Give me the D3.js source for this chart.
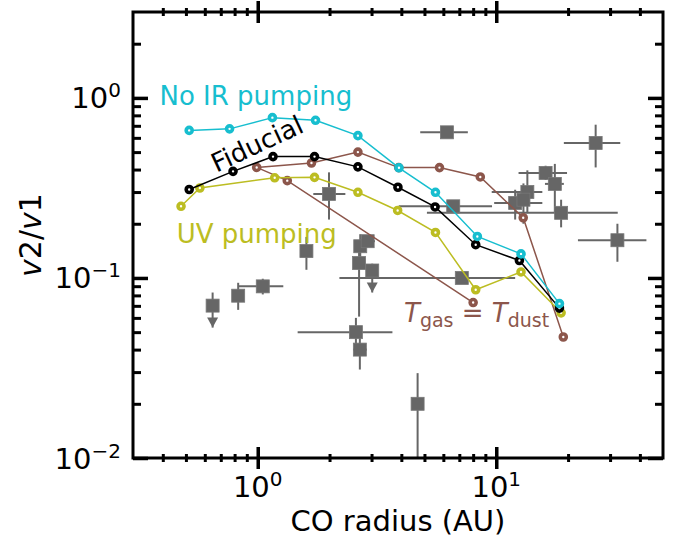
<!DOCTYPE html>
<html><head><meta charset="utf-8">
<script src="https://cdn.jsdelivr.net/npm/d3@7"></script>
<style>body{margin:0;background:#fff} svg{display:block}</style>
</head><body>
<script>
// ---------- data ----------
const noIRx=[0.516,0.762,1.152,1.747,2.63,3.91,5.56,8.33,12.7,18.4];
const noIRy=[0.66,0.673,0.777,0.751,0.617,0.409,0.299,0.170,0.136,0.072];
const fidX=[0.516,0.788,1.159,1.73,2.63,3.87,5.54,8.2,12.5,18.4];
const fidY=[0.31,0.391,0.472,0.472,0.414,0.319,0.248,0.153,0.125,0.068];
const uvX=[0.477,0.572,1.178,1.73,2.63,3.86,5.56,8.2,12.7,18.7];
const uvY=[0.25,0.316,0.36,0.362,0.299,0.237,0.179,0.086,0.108,0.064];
const tgX=[8.0,1.33,0.99,1.68,2.63,3.9,5.78,8.57,12.97,19.1];
const tgY=[0.073,0.347,0.411,0.435,0.50,0.41,0.41,0.364,0.216,0.047];

const obsX  =[6.21,26.1,16.1,17.6,13.5,12.0,13.0,18.7,6.6,32.2,1.99,1.60,2.69,2.89,2.66,3.02,1.05,0.828,0.647,7.17,2.58,2.68,4.68];
const obsY  =[0.644,0.562,0.383,0.333,0.300,0.261,0.272,0.23,0.25,0.162,0.293,0.141,0.15,0.16,0.121,0.110,0.0898,0.0797,0.0702,0.1,0.050,0.040,0.020];
const obsXlo=[4.8,19.2,12.4,16.0,9.57,9.8,null,5.12,3.9,22.0,1.71,null,null,2.7,null,null,0.828,null,null,2.2,1.47,2.51,null];
const obsXhi=[7.6,33.1,19.8,19.2,15.6,15.6,null,32.3,9.6,42.6,2.33,null,null,3.1,null,null,1.28,null,null,12.0,3.67,2.87,null];
const obsYlo=[null,0.411,0.35,0.229,0.229,0.211,0.20,0.191,null,0.123,0.211,0.111,0.13,null,0.061,0.083,0.081,0.0665,0.053,null,0.04,0.031,0.008];
const obsYhi=[null,0.71,0.42,0.43,0.396,0.309,0.335,0.272,null,0.2,0.386,0.169,0.175,null,0.15,0.12,0.099,0.094,0.083,null,0.06,0.05,0.0296];
const obsUL =[0,0,0,0,0,0,0,0,0,0,0,0,0,0,0,1,0,0,1,0,0,0,0];

const xMajor=[1,10], xMinor=[0.4,0.5,0.6,0.7,0.8,0.9,2,3,4,5,6,7,8,9,20,30,40];
const yMajor=[0.01,0.1,1], yMinor=[0.02,0.03,0.04,0.05,0.06,0.07,0.08,0.09,0.2,0.3,0.4,0.5,0.6,0.7,0.8,0.9,2];
const xTickLabels=[["10","0"],["10","1"]];
const yTickLabels=[["10","\u22122"],["10","\u22121"],["10","0"]];

// ---------- setup ----------
const W=681,H=543, L=133,R=663,T=12,B=458;
const x=d3.scaleLog().domain([0.3,50]).range([L,R]);
const y=d3.scaleLog().domain([0.01,3]).range([B,T]);
const svg=d3.select('body').append('svg').attr('width',W).attr('height',H)
  .style('font-family','DejaVu Sans');
svg.append('defs').append('clipPath').attr('id','clip').append('rect')
  .attr('x',L).attr('y',T).attr('width',R-L).attr('height',B-T);
const plot=svg.append('g').attr('clip-path','url(#clip)');
const gray='#666666';

// ---------- observations ----------
const obsG=plot.append('g');
obsX.forEach((vx,i)=>{
  const cx=x(vx), cy=y(obsY[i]);
  if(obsXlo[i]!=null) obsG.append('line').attr('x1',x(obsXlo[i])).attr('x2',x(obsXhi[i]))
     .attr('y1',cy).attr('y2',cy).attr('stroke',gray).attr('stroke-width',2);
  if(obsYlo[i]!=null) obsG.append('line').attr('x1',cx).attr('x2',cx)
     .attr('y1',y(obsYhi[i])).attr('y2',y(obsYlo[i])).attr('stroke',gray).attr('stroke-width',2);
  if(obsUL[i]){
    const ty=y(obsYlo[i]);
    obsG.append('path').attr('d',`M${cx-5.5},${ty-10}L${cx+5.5},${ty-10}L${cx},${ty}Z`).attr('fill',gray);
  }
});
obsX.forEach((vx,i)=>{
  obsG.append('rect').attr('x',x(vx)-6.5).attr('y',y(obsY[i])-6.5).attr('width',13).attr('height',13)
    .attr('fill',gray).attr('stroke','#777').attr('stroke-width',0.8);
});

// ---------- model series ----------
function series(xs,ys,col){
  const pts=xs.map((v,i)=>[x(v),y(ys[i])]);
  plot.append('path').attr('d',d3.line()(pts)).attr('fill','none').attr('stroke',col).attr('stroke-width',1.5);
  plot.append('g').selectAll('circle').data(pts).join('circle')
    .attr('cx',d=>d[0]).attr('cy',d=>d[1]).attr('r',3).attr('fill','#fff')
    .attr('stroke',col).attr('stroke-width',3.6);
}
series(tgX,tgY,'#8c564b');
series(uvX,uvY,'#bcbd22');
series(fidX,fidY,'#000000');
series(noIRx,noIRy,'#17becf');

// ---------- axes ----------
function addAxis(axisFn,scale,vals,tr){
  const g=svg.append('g').attr('transform',tr).call(axisFn(scale).tickValues(vals).tickFormat('').tickSizeOuter(0));
  g.select('.domain').remove();
  return g;
}
[[d3.axisBottom,`translate(0,${B})`],[d3.axisTop,`translate(0,${T})`]].forEach(([fn,tr])=>{
  addAxis(fn,x,xMajor,tr).selectAll('.tick line').attr('y1',-11).attr('y2',11).attr('stroke','#000').attr('stroke-width',3.5);
  addAxis(fn,x,xMinor,tr).selectAll('.tick line').attr('y1',-4).attr('y2',4).attr('stroke','#000').attr('stroke-width',3);
});
addAxis(d3.axisLeft,y,yMajor,`translate(${L},0)`).selectAll('.tick line').attr('x1',0).attr('x2',15).attr('stroke','#000').attr('stroke-width',3.5);
addAxis(d3.axisLeft,y,yMinor,`translate(${L},0)`).selectAll('.tick line').attr('x1',0).attr('x2',8).attr('stroke','#000').attr('stroke-width',3);
addAxis(d3.axisRight,y,yMajor,`translate(${R},0)`).selectAll('.tick line').attr('x1',0).attr('x2',-15).attr('stroke','#000').attr('stroke-width',3.5);
addAxis(d3.axisRight,y,yMinor,`translate(${R},0)`).selectAll('.tick line').attr('x1',0).attr('x2',-8).attr('stroke','#000').attr('stroke-width',3);
svg.selectAll('.tick text').remove();

svg.append('rect').attr('x',L).attr('y',T).attr('width',R-L).attr('height',B-T)
  .attr('fill','none').attr('stroke','#000').attr('stroke-width',3);

// tick labels
function powLabel(px,py,lab,anchor){
  const t=svg.append('text').attr('x',px).attr('y',py).attr('text-anchor',anchor)
    .attr('font-size',29).attr('fill','#000');
  t.append('tspan').text(lab[0]);
  t.append('tspan').attr('font-size',20).attr('dy',-11).text(lab[1]);
}
xMajor.forEach((v,i)=>powLabel(x(v),497,xTickLabels[i],'middle'));
yMajor.forEach((v,i)=>powLabel(121,y(v)+10.5,yTickLabels[i],'end'));

// axis labels
svg.append('text').attr('x',(L+R)/2).attr('y',531).attr('text-anchor','middle')
  .attr('font-size',29).text('CO radius (AU)');
const yl=svg.append('text').attr('transform',`translate(41,${(T+B)/2}) rotate(-90)`)
  .attr('text-anchor','middle').attr('font-size',30);
yl.append('tspan').attr('font-style','italic').text('v');
yl.append('tspan').text('2/');
yl.append('tspan').attr('font-style','italic').text('v');
yl.append('tspan').text('1');

// annotations
svg.append('text').attr('x',159.5).attr('y',105).attr('font-size',26).attr('fill','#17becf').text('No IR pumping');
svg.append('text').attr('x',176.7).attr('y',243).attr('font-size',26).attr('fill','#bcbd22').text('UV pumping');
svg.append('text').attr('transform','translate(257,144) rotate(-25)').attr('text-anchor','middle')
  .attr('dominant-baseline','central').attr('font-size',26).attr('fill','#000').text('Fiducial');
const tg=svg.append('text').attr('x',404).attr('y',322).attr('font-size',26).attr('fill','#8c564b');
tg.append('tspan').attr('font-style','italic').text('T');
tg.append('tspan').attr('font-size',19).attr('dy',5).text('gas');
tg.append('tspan').attr('dy',-5).text(' = ');
tg.append('tspan').attr('font-style','italic').text('T');
tg.append('tspan').attr('font-size',19).attr('dy',5).text('dust');
</script>
</body></html>
